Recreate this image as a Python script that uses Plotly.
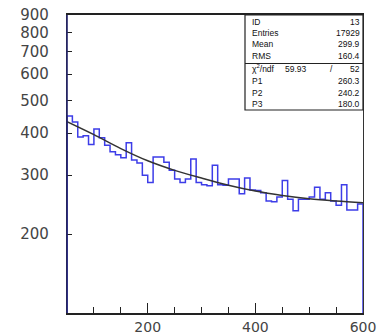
import plotly.graph_objects as go

# ---- data ----
bin_left = list(range(50, 600, 10))  # 55 bins, width 10
counts = [450, 432, 390, 393, 370, 412, 388, 368, 352, 345,
          338, 375, 333, 326, 300, 285, 340, 340, 328, 310,
          292, 285, 292, 335, 285, 281, 279, 321, 281, 280,
          292, 292, 264, 294, 271, 270, 266, 251, 250, 258,
          289, 254, 235, 254, 254, 258, 276, 254, 266, 251,
          244, 281, 236, 236, 246]
bin_width = 10

fit_x = [50, 100, 150, 200, 250, 300, 350, 400, 450, 500, 550, 600]
fit_y = [433, 396, 360, 331, 310, 294, 280, 269, 261, 255, 251, 248]

y_ticks = [200, 300, 400, 500, 600, 700, 800, 900]
x_ticks = [200, 400, 600]

stats_top = [("ID", "13"), ("Entries", "17929"), ("Mean", "299.9"), ("RMS", "160.4")]
chi2_ndf = ("59.93", "52")
stats_par = [("P1", "260.3"), ("P2", "240.2"), ("P3", "180.0")]

# ---- histogram outline (edges drop to baseline at both ends) ----
floor = 1
hx = [bin_left[0]] + bin_left + [bin_left[-1] + bin_width, bin_left[-1] + bin_width]
hy = [floor] + counts + [counts[-1], floor]

fig = go.Figure()
fig.add_trace(go.Scatter(x=hx, y=hy, mode="lines", line=dict(shape="hv", color="#3d3de8", width=1.5),
                         hoverinfo="skip", showlegend=False))
fig.add_trace(go.Scatter(x=fit_x, y=fit_y, mode="lines", line=dict(shape="spline", color="#333333", width=1.5),
                         hoverinfo="skip", showlegend=False))

L, R, T, B = 67, 19, 15, 23
W, H = 382, 336
pw, ph = W - L - R, H - T - B

def px2paper(px):
    return (px - L) / pw

def py2paper(py):
    return 1 - (py - T) / ph

shapes = []
# navy left axis line
shapes.append(dict(type="line", xref="paper", yref="paper", x0=0, x1=0, y0=0, y1=1,
                   line=dict(color="#22226a", width=1.6), layer="above"))
# stats box
bx0, bx1 = px2paper(245), 1.0
by0, by1 = py2paper(110), 1.0
shapes.append(dict(type="rect", xref="paper", yref="paper", x0=bx0, x1=bx1, y0=by0, y1=by1,
                   line=dict(color="#222", width=1.2), fillcolor="white", layer="above"))
shapes.append(dict(type="line", xref="paper", yref="paper", x0=bx0, x1=bx1,
                   y0=py2paper(63.5), y1=py2paper(63.5), line=dict(color="#222", width=1.2)))

ann = []
fnt = dict(family="Liberation Sans, Arial", size=8.5, color="#111")
rows_top = [21.5, 33, 44.5, 56]
for (lab, val), py in zip(stats_top, rows_top):
    ann.append(dict(xref="paper", yref="paper", x=px2paper(250), y=py2paper(py), text=lab,
                    showarrow=False, xanchor="left", yanchor="middle", font=fnt))
    ann.append(dict(xref="paper", yref="paper", x=px2paper(362), y=py2paper(py), text=val,
                    showarrow=False, xanchor="right", yanchor="middle", font=fnt))
py = 69
ann.append(dict(xref="paper", yref="paper", x=px2paper(250), y=py2paper(py), text="χ<sup>2</sup>/ndf",
                showarrow=False, xanchor="left", yanchor="middle", font=fnt))
ann.append(dict(xref="paper", yref="paper", x=px2paper(309), y=py2paper(py), text=chi2_ndf[0],
                showarrow=False, xanchor="right", yanchor="middle", font=fnt))
ann.append(dict(xref="paper", yref="paper", x=px2paper(331), y=py2paper(py), text="/",
                showarrow=False, xanchor="center", yanchor="middle", font=fnt))
ann.append(dict(xref="paper", yref="paper", x=px2paper(362), y=py2paper(py), text=chi2_ndf[1],
                showarrow=False, xanchor="right", yanchor="middle", font=fnt))
for (lab, val), py in zip(stats_par, [81, 93, 104]):
    ann.append(dict(xref="paper", yref="paper", x=px2paper(250), y=py2paper(py), text=lab,
                    showarrow=False, xanchor="left", yanchor="middle", font=fnt))
    ann.append(dict(xref="paper", yref="paper", x=px2paper(362), y=py2paper(py), text=val,
                    showarrow=False, xanchor="right", yanchor="middle", font=fnt))

fig.update_layout(
    width=W, height=H, margin=dict(l=L, r=R, t=T, b=B, pad=0, autoexpand=False),
    paper_bgcolor="white", plot_bgcolor="white",
    shapes=shapes, annotations=ann,
    xaxis=dict(range=[50, 600], tickmode="array", tickvals=x_ticks, ticktext=[str(v) for v in x_ticks],
               ticks="inside", ticklen=10, tickwidth=1.2, tickcolor="#222",
               minor=dict(tickmode="linear", tick0=0, dtick=50, ticks="inside", ticklen=6,
                          tickwidth=1.1, tickcolor="#222", showgrid=False),
               showline=True, linecolor="#222", linewidth=1.5, mirror=True,
               showgrid=False, zeroline=False, ticklabelstandoff=0, automargin=False,
               tickfont=dict(family="DejaVu Sans", size=14, color="#444")),
    yaxis=dict(type="log", range=[2.066, 2.9546], tickmode="array", tickvals=y_ticks,
               ticktext=[str(v) for v in y_ticks],
               ticks="inside", ticklen=5, tickwidth=1.2, tickcolor="#222",
               showline=True, linecolor="#333", linewidth=1.4, mirror=True,
               showgrid=False, zeroline=False, ticklabelstandoff=14, automargin=False,
               tickfont=dict(family="DejaVu Sans", size=15, color="#444")),
)
fig.write_html("out.html", config={"displayModeBar": False},
               post_script="document.body.style.margin='0';document.body.style.overflow='hidden';")
